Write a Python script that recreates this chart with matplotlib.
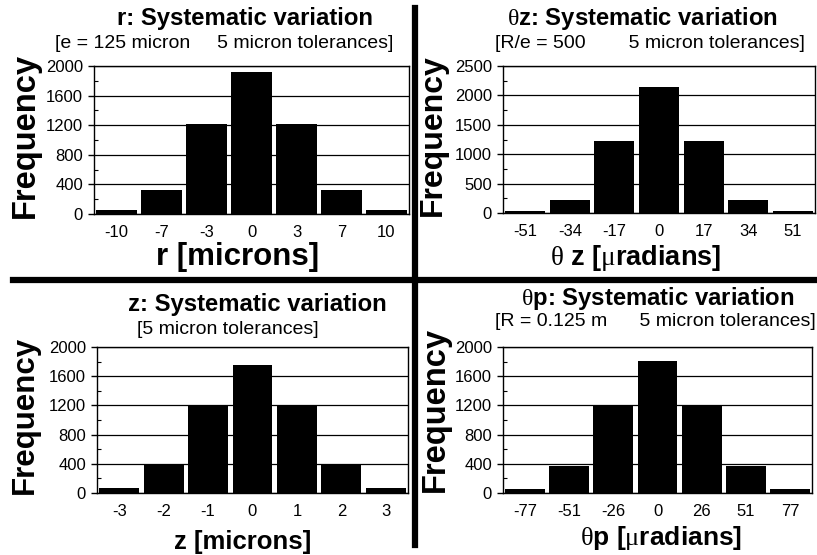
import numpy as np
import matplotlib
matplotlib.use("Agg")
import matplotlib.pyplot as plt
from matplotlib.lines import Line2D

plt.rcParams["font.family"] = ["Liberation Sans", "DejaVu Sans"]
plt.rcParams["mathtext.fontset"] = "custom"
plt.rcParams["mathtext.rm"] = "Liberation Serif"
plt.rcParams["mathtext.it"] = "Liberation Serif:italic"

W, H = 817, 555

# --- datos de los cuatro histogramas ---
r_ticks = ["-10", "-7", "-3", "0", "3", "7", "10"]
r_freq = [50, 320, 1220, 1920, 1220, 320, 50]

tz_ticks = ["-51", "-34", "-17", "0", "17", "34", "51"]
tz_freq = [40, 220, 1220, 2150, 1220, 220, 40]

z_ticks = ["-3", "-2", "-1", "0", "1", "2", "3"]
z_freq = [65, 385, 1200, 1760, 1200, 385, 65]

tp_ticks = ["-77", "-51", "-26", "0", "26", "51", "77"]
tp_freq = [60, 370, 1200, 1810, 1200, 370, 60]

paneles = [
    dict(ticks=r_ticks, freq=r_freq, ymax=2000, paso=400,
         caja=(94, 66, 409, 214),
         titulo="r: Systematic variation", tpos=(245, 18),
         sub="[e = 125 micron     5 micron tolerances]", spos=(224, 43),
         xlab="r [microns]", xpos=(238, 257), xfs=22.5, ypos=(25, 136), yfs=23.5),
    dict(ticks=tz_ticks, freq=tz_freq, ymax=2500, paso=500,
         caja=(503, 66, 815, 213),
         titulo=r"$\mathrm{\theta}$z: Systematic variation", tpos=(642, 18),
         sub="[R/e = 500        5 micron tolerances]", spos=(650, 43),
         xlab=r"$\mathrm{\theta}$ z [$\mathrm{\mu}$radians]", xpos=(636, 258),
         xfs=19.5, ypos=(433, 135), yfs=23),
    dict(ticks=z_ticks, freq=z_freq, ymax=2000, paso=400,
         caja=(97, 347, 408, 493),
         titulo="z: Systematic variation", tpos=(257, 305),
         sub="[5 micron tolerances]", spos=(228, 330),
         xlab="z [microns]", xpos=(243, 542), xfs=18.5, ypos=(25, 415), yfs=22.5),
    dict(ticks=tp_ticks, freq=tp_freq, ymax=2000, paso=400,
         caja=(503, 347, 812, 493),
         titulo=r"$\mathrm{\theta}$p: Systematic variation", tpos=(658, 298),
         sub="[R = 0.125 m      5 micron tolerances]", spos=(655, 321),
         xlab=r"$\mathrm{\theta}$p [$\mathrm{\mu}$radians]", xpos=(661, 538),
         xfs=19, ypos=(435, 410), yfs=23.5),
]

fig = plt.figure(figsize=(W / 100, H / 100), dpi=100)


def fx(px):
    return px / W


def fy(py):
    return 1 - py / H


for p in paneles:
    x0, y0, x1, y1 = p["caja"]
    ax = fig.add_axes([fx(x0), fy(y1), (x1 - x0) / W, (y1 - y0) / H])
    pos = np.arange(len(p["freq"]))
    ax.bar(pos, p["freq"], width=0.9, color="black", edgecolor="none", zorder=3)
    ax.set_xlim(-0.5, len(pos) - 0.5)
    ax.set_ylim(0, p["ymax"])
    ax.set_xticks(pos)
    ax.set_xticklabels(p["ticks"])
    ax.set_yticks(np.arange(0, p["ymax"] + 1, p["paso"]))
    ax.set_yticks(np.arange(p["paso"] / 2, p["ymax"], p["paso"]), minor=True)
    ax.yaxis.grid(True, color="black", lw=0.9, zorder=1)
    ax.set_axisbelow(True)
    ax.tick_params(axis="x", length=0, pad=8, labelsize=12)
    ax.tick_params(axis="y", which="major", length=4, width=1, pad=4, labelsize=12)
    ax.tick_params(axis="y", which="minor", direction="in", length=3, width=0.8)
    for s in ax.spines.values():
        s.set_linewidth(1)
        s.set_color("black")

    fig.text(fx(p["tpos"][0]), fy(p["tpos"][1]), p["titulo"], fontsize=17.2,
             fontweight="bold", ha="center", va="center")
    fig.text(fx(p["spos"][0]), fy(p["spos"][1]), p["sub"], fontsize=14,
             ha="center", va="center")
    fig.text(fx(p["xpos"][0]), fy(p["xpos"][1]), p["xlab"], fontsize=p["xfs"],
             fontweight="bold", ha="center", va="center")
    fig.text(fx(p["ypos"][0]), fy(p["ypos"][1]), "Frequency", fontsize=p["yfs"],
             fontweight="bold", ha="center", va="center", rotation=90)

# separadores entre paneles
fig.add_artist(Line2D([fx(414.5), fx(414.5)], [fy(8), fy(545)], color="black",
                      lw=4.5, transform=fig.transFigure))
fig.add_artist(Line2D([fx(13), fx(817)], [fy(280.5), fy(280.5)], color="black",
                      lw=4.5, transform=fig.transFigure))

fig.savefig("out.png", dpi=100, facecolor="white")
